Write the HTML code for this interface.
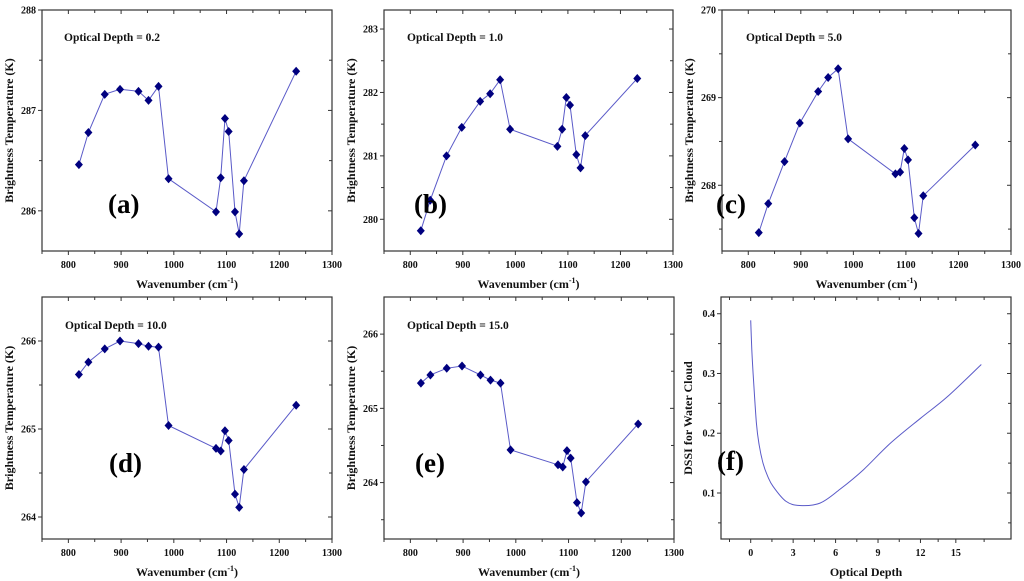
<!DOCTYPE html>
<html><head><meta charset="utf-8"><style>
html,body{margin:0;padding:0;background:#fff;}
svg{display:block;font-family:"Liberation Serif",serif;}
</style></head><body>
<svg id="c" width="1024" height="581" viewBox="0 0 1024 581" xmlns="http://www.w3.org/2000/svg"></svg>
<script>
const wavenumbers=[820,838,869,898,933,952,971,990,1080,1089,1097,1104,1116,1124,1133,1232];
const btA=[286.46,286.78,287.16,287.21,287.19,287.10,287.24,286.32,285.99,286.33,286.92,286.79,285.99,285.77,286.30,287.39];
const btB=[279.82,280.30,281.00,281.45,281.86,281.98,282.20,281.42,281.15,281.42,281.92,281.80,281.02,280.81,281.32,282.22];
const btC=[267.46,267.79,268.27,268.71,269.07,269.23,269.33,268.53,268.13,268.15,268.42,268.29,267.63,267.45,267.88,268.46];
const btD=[265.62,265.76,265.91,266.00,265.97,265.94,265.93,265.04,264.78,264.75,264.98,264.87,264.26,264.11,264.54,265.27];
const btE=[265.34,265.45,265.54,265.57,265.45,265.38,265.34,264.44,264.24,264.21,264.43,264.33,263.73,263.59,264.01,264.79];
const xTicks=[800,900,1000,1100,1200,1300];
const yTicksA=[286,287,288];
const yTicksB=[280,281,282,283];
const yTicksC=[268,269,270];
const yTicksD=[264,265,266];
const yTicksE=[264,265,266];
const depth=[0,0.08,0.17,0.4,0.6,0.87,1.2,1.58,2.5,3.47,4.9,6.3,7.97,9.86,12,13.9,16.3];
const dssi=[0.389,0.34,0.30,0.217,0.18,0.15,0.128,0.111,0.086,0.079,0.083,0.106,0.139,0.183,0.225,0.261,0.315];
const depthTickVals=[0,3,6,9,12,14.5];
const depthTickLabels=['0','3','6','9','12','15'];
const dssiTicks=[0.1,0.2,0.3,0.4];

const NS='http://www.w3.org/2000/svg';
const svg=document.getElementById('c');
function mk(tag,attrs,parent){const e=document.createElementNS(NS,tag);for(const k in attrs)e.setAttribute(k,attrs[k]);(parent||svg).appendChild(e);return e;}

function smoothPath(P){
  let d='M'+P[0][0].toFixed(1)+','+P[0][1].toFixed(1);
  for(let i=0;i<P.length-1;i++){
    const p0=P[i-1]||P[i],p1=P[i],p2=P[i+1],p3=P[i+2]||P[i+1];
    const c1=[p1[0]+(p2[0]-p0[0])/6,p1[1]+(p2[1]-p0[1])/6];
    const c2=[p2[0]-(p3[0]-p1[0])/6,p2[1]-(p3[1]-p1[1])/6];
    d+=` C${c1[0].toFixed(1)},${c1[1].toFixed(1)} ${c2[0].toFixed(1)},${c2[1].toFixed(1)} ${p2[0].toFixed(1)},${p2[1].toFixed(1)}`;
  }
  return d;
}

function panel(id,box,xd,yd,xt,xtl,yt,yminor,xminor,xs,ys,label,letter,letterPos,odPos,ytitle,xtitle,markers){
  const g=mk('g',{});
  
  
  const X=v=>box.x0+(v-xd[0])/(xd[1]-xd[0])*(box.x1-box.x0);
  const Y=v=>box.y1-(v-yd[0])/(yd[1]-yd[0])*(box.y1-box.y0);
  const frame=mk('rect',{x:box.x0,y:box.y0,width:box.x1-box.x0,height:box.y1-box.y0,fill:'none',stroke:'#333','stroke-width':1.2},g);
  
  
  xt.forEach((v,i)=>{const x=X(v);
    mk('line',{x1:x,y1:box.y1,x2:x,y2:box.y1+4,stroke:'#333'},g);
    mk('line',{x1:x,y1:box.y0,x2:x,y2:box.y0+4,stroke:'#333'},g);
    const t=mk('text',{x:x,y:box.y1+17,'text-anchor':'middle','font-size':10,'font-weight':'bold',fill:'#111'},g);
    t.textContent=xtl[i];
    
    
  });
  xminor.forEach(v=>{const x=X(v);
    mk('line',{x1:x,y1:box.y1,x2:x,y2:box.y1+3,stroke:'#333'},g);
    mk('line',{x1:x,y1:box.y0,x2:x,y2:box.y0+3,stroke:'#333'},g);});
  yt.forEach(v=>{const y=Y(v);
    mk('line',{x1:box.x0-4,y1:y,x2:box.x0,y2:y,stroke:'#333'},g);
    mk('line',{x1:box.x1-4,y1:y,x2:box.x1,y2:y,stroke:'#333'},g);
    const t=mk('text',{x:box.x0-6,y:y+3.5,'text-anchor':'end','font-size':10,'font-weight':'bold',fill:'#111'},g);
    t.textContent=(yd[1]<1?v.toFixed(1):String(v));
    
    
  });
  yminor.forEach(v=>{const y=Y(v);
    mk('line',{x1:box.x0-3,y1:y,x2:box.x0,y2:y,stroke:'#333'},g);
    mk('line',{x1:box.x1-3,y1:y,x2:box.x1,y2:y,stroke:'#333'},g);});
  if(markers){
    const pts=xs.map((v,i)=>X(v).toFixed(1)+','+Y(ys[i]).toFixed(1)).join(' ');
    const pl=mk('polyline',{points:pts,fill:'none',stroke:'#5a5ac8','stroke-width':1},g);
    
    
    xs.forEach((v,i)=>{const x=X(v),y=Y(ys[i]);
    const m=mk('polygon',{points:`${x},${y-4.5} ${x+4},${y} ${x},${y+4.5} ${x-4},${y}`,fill:'#00007f'},g);
    
    });
  } else {
    const P=xs.map((v,i)=>[X(v),Y(ys[i])]);
    const pa=mk('path',{d:smoothPath(P),fill:'none',stroke:'#5a5ac8','stroke-width':1},g);
    
    
  }
  if(label){const t=mk('text',{x:odPos[0],y:odPos[1],'font-size':11.5,'font-weight':'bold',fill:'#111'},g);t.textContent=label;
    
    }
  const L=mk('text',{x:letterPos[0],y:letterPos[1],'font-size':27,'font-weight':'bold',fill:'#000'},g);L.textContent=letter;
  
  
  const cy=(box.y0+box.y1)/2;
  const yt2=mk('text',{x:box.x0-29,y:cy,'text-anchor':'middle','font-size':12,'font-weight':'bold',fill:'#111',transform:`rotate(-90 ${box.x0-29} ${cy})`},g);yt2.textContent=ytitle;
  
  
  const xt2=mk('text',{x:(box.x0+box.x1)/2,y:box.y1+37,'text-anchor':'middle','font-size':12,'font-weight':'bold',fill:'#111'},g);
  if(xtitle==='wn'){xt2.textContent='Wavenumber (cm';const s=mk('tspan',{dy:-5,'font-size':8},xt2);s.textContent='-1';const s2=mk('tspan',{dy:5},xt2);s2.textContent=')';}
  else xt2.textContent=xtitle;
  
  
}
const xminor=[750,850,950,1050,1150,1250];
const yT='Brightness Temperature (K)';
panel('a',{x0:42,x1:332,y0:10,y1:251},[750,1300],[285.6,288.0],xTicks,xTicks.map(String),yTicksA,[286.5,287.5],xminor,wavenumbers,btA,'Optical Depth = 0.2','(a)',[108,213],[64,41],yT,'wn',true);
panel('b',{x0:384,x1:673,y0:10,y1:251},[750,1300],[279.5,283.3],xTicks,xTicks.map(String),yTicksB,[280.5,281.5,282.5],xminor,wavenumbers,btB,'Optical Depth = 1.0','(b)',[414,213],[407,41],yT,'wn',true);
panel('c',{x0:722,x1:1011,y0:10,y1:251},[750,1300],[267.25,270],xTicks,xTicks.map(String),yTicksC,[267.5,268.5,269.5],xminor,wavenumbers,btC,'Optical Depth = 5.0','(c)',[716,213],[746,41],yT,'wn',true);
panel('d',{x0:42,x1:332,y0:297,y1:539},[750,1300],[263.75,266.5],xTicks,xTicks.map(String),yTicksD,[264.5,265.5],xminor,wavenumbers,btD,'Optical Depth = 10.0','(d)',[109,472],[65,329],yT,'wn',true);
panel('e',{x0:384,x1:674,y0:297,y1:539},[750,1300],[263.24,266.5],xTicks,xTicks.map(String),yTicksE,[263.5,264.5,265.5],xminor,wavenumbers,btE,'Optical Depth = 15.0','(e)',[415,472],[407,329],yT,'wn',true);
panel('f',{x0:721,x1:1011,y0:297,y1:539},[-2.1,18.4],[0.023,0.428],depthTickVals,depthTickLabels,dssiTicks,[0.05,0.15,0.25,0.35],[-1.5,1.5,4.5,7.5,10.5,13.25,16.5],depth,dssi,null,'(f)',[717,470],[0,0],'DSSI for Water Cloud','Optical Depth',false);
</script>
</body></html>
